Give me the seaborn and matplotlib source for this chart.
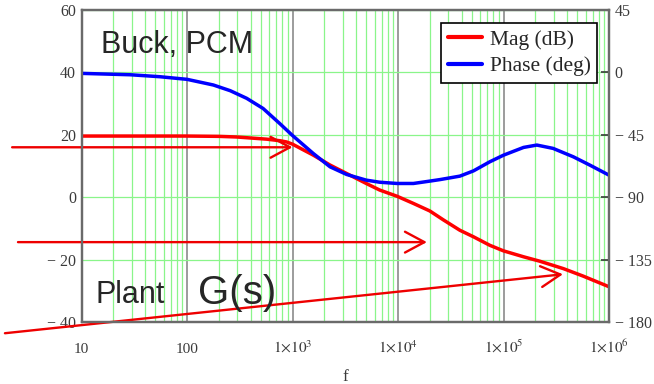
import numpy as np
import pandas as pd
import matplotlib
matplotlib.use("Agg")
import matplotlib.pyplot as plt
import seaborn as sns
from matplotlib.ticker import FixedLocator, LogLocator, NullFormatter

# ---------------- data ----------------
freq_mag = [10, 30, 100, 200, 295, 570, 760, 880, 1000, 1570, 2270, 3260, 5000, 6700,
            9800, 14000, 20000, 27000, 38600, 52000, 74000, 100000, 155000, 220000,
            370000, 570000, 1000000]
mag_db = [19.6, 19.6, 19.6, 19.5, 19.3, 18.6, 18.1, 17.7, 17.0, 13.5, 10.3, 7.6, 4.4, 2.3,
          0.3, -2.0, -4.4, -7.3, -10.6, -12.7, -15.4, -17.2, -19.1, -20.5,
          -22.9, -25.3, -28.7]

freq_phase = [10, 29, 55, 100, 178, 257, 368, 526, 760, 1000, 1570, 2270, 3260, 5000,
              6700, 9800, 14000, 20000, 25000, 38600, 52000, 74000, 100000, 155000,
              207000, 295000, 460000, 660000, 1000000]
phase_deg = [-0.7, -1.7, -3.1, -5.0, -9.1, -13.2, -18.7, -26.0, -37.0, -45.5, -58.4, -68.1,
             -73.6, -77.7, -79.2, -80.1, -80.1, -78.4, -77.3, -74.8, -71.0, -64.5, -59.7,
             -54.1, -52.4, -54.8, -60.9, -66.9, -74.1]

series_names = ["Mag (dB)", "Phase (deg)"]

x_ticks = [10, 100, 1e3, 1e4, 1e5, 1e6]
x_tick_labels = ["10", "100", r"$1{\times}10^{3}$", r"$1{\times}10^{4}$",
                 r"$1{\times}10^{5}$", r"$1{\times}10^{6}$"]
left_ticks = [60, 40, 20, 0, -20, -40]
left_tick_labels = ["60", "40", "20", "0", "\u2212 20", "\u2212 40"]
right_ticks = [45, 0, -45, -90, -135, -180]
right_tick_labels = ["45", "0", "\u2212 45", "\u2212 90", "\u2212 135", "\u2212 180"]
x_label = "f"

# annotation arrows (tail -> head), in data units of the magnitude axis
arrow_tails = [(2.2, 16.0), (2.5, -14.4), (1.88, -43.6)]
arrow_heads = [(1000, 16.0), (18800, -14.4), (366000, -24.7)]

title_text = "Buck, PCM"
plant_text = "Plant"
gs_text = "G(s)"

# ---------------- style ----------------
sns.set_style("white")
plt.rcParams["font.family"] = ["Liberation Serif", "DejaVu Serif"]
plt.rcParams["mathtext.fontset"] = "stix"

W, H = 654, 384
fig = plt.figure(figsize=(W / 100, H / 100), dpi=100)
L, R, T, B = 81.5, 609, 10, 322
ax = fig.add_axes([L / W, 1 - B / H, (R - L) / W, (B - T) / H])
ax2 = ax.twinx()

df_mag = pd.DataFrame({"f": freq_mag, "v": mag_db})
df_ph = pd.DataFrame({"f": freq_phase, "v": phase_deg})

sns.lineplot(data=df_mag, x="f", y="v", ax=ax, color="#ff0000", linewidth=2.5,
             label=series_names[0], legend=False)
sns.lineplot(data=df_ph, x="f", y="v", ax=ax2, color="#0000ff", linewidth=2.5,
             label=series_names[1], legend=False)

ax.set_xscale("log")
ax.set_xlim(10, 1e6)
ax.set_ylim(-40, 60)
ax2.set_ylim(-180, 45)

ax.xaxis.set_major_locator(FixedLocator(x_ticks))
ax.set_xticklabels(x_tick_labels)
ax.xaxis.set_minor_locator(LogLocator(base=10, subs=np.arange(2, 10)))
ax.xaxis.set_minor_formatter(NullFormatter())
ax.yaxis.set_major_locator(FixedLocator(left_ticks))
ax.set_yticklabels(left_tick_labels)
ax2.yaxis.set_major_locator(FixedLocator(right_ticks))
ax2.set_yticklabels(right_tick_labels)

tick_color = "#3a3a3a"
ax.tick_params(axis="x", which="both", length=0, labelsize=11, colors=tick_color)
ax.tick_params(axis="y", which="both", length=0, pad=4, labelsize=11.5, colors=tick_color)
ax2.tick_params(axis="y", which="major", direction="in", length=6, width=1.2,
                pad=4, labelsize=11.5, colors=tick_color)

for lab in ax.get_xticklabels():
    lab.set_verticalalignment("baseline")
ax.tick_params(axis="x", pad=22)

ax.set_xlabel(x_label, fontsize=12.5, color=tick_color)
ax.xaxis.set_label_coords(0.5, -(381 - B) / (B - T))
ax.xaxis.label.set_verticalalignment("baseline")
ax.set_ylabel("")
ax2.set_ylabel("")

# grid
ax.set_axisbelow(True)
ax.grid(which="minor", axis="x", color="#8af58a", linewidth=0.9)
ax.grid(which="major", axis="x", color="#9c9c9c", linewidth=1.4)
ax.grid(which="major", axis="y", color="#8af58a", linewidth=0.9)
ax2.grid(False)

for a in (ax, ax2):
    for s in a.spines.values():
        s.set_color("#6a6a6a")
        s.set_linewidth(1.6)
        s.set_visible(True)

# legend
handles = ax.get_lines()[:1] + ax2.get_lines()[:1]
leg = ax2.legend(handles, series_names, loc="upper right",
                 bbox_to_anchor=((597 - L) / (R - L), (B - 23) / (B - T)),
                 borderaxespad=0, fancybox=False, framealpha=1, edgecolor="black",
                 prop={"family": "Liberation Serif", "size": 15.5}, handlelength=1.6,
                 handletextpad=0.35, labelspacing=0.3, borderpad=0.3)
leg.get_frame().set_linewidth(1.2)
for ln in leg.get_lines():
    ln.set_linewidth(3)

# arrows
for (tx, ty), (hx, hy) in zip(arrow_tails, arrow_heads):
    ax.annotate("", xy=(hx, hy), xytext=(tx, ty), xycoords="data", textcoords="data",
                annotation_clip=False,
                arrowprops=dict(arrowstyle="->,head_length=1.4,head_width=0.75",
                                color="#ee0000", lw=1.7, shrinkA=0, shrinkB=0,
                                mutation_scale=10))

# overlay texts
sans = ["Liberation Sans", "DejaVu Sans"]
fig.text(101 / W, 1 - 53 / H, title_text, fontsize=22, family=sans, va="baseline", ha="left")
fig.text(96 / W, 1 - 303 / H, plant_text, fontsize=22, family=sans, va="baseline", ha="left")
fig.text(198 / W, 1 - 304 / H, gs_text, fontsize=29, family=sans, va="baseline", ha="left")

fig.savefig("out.png", dpi=100)
